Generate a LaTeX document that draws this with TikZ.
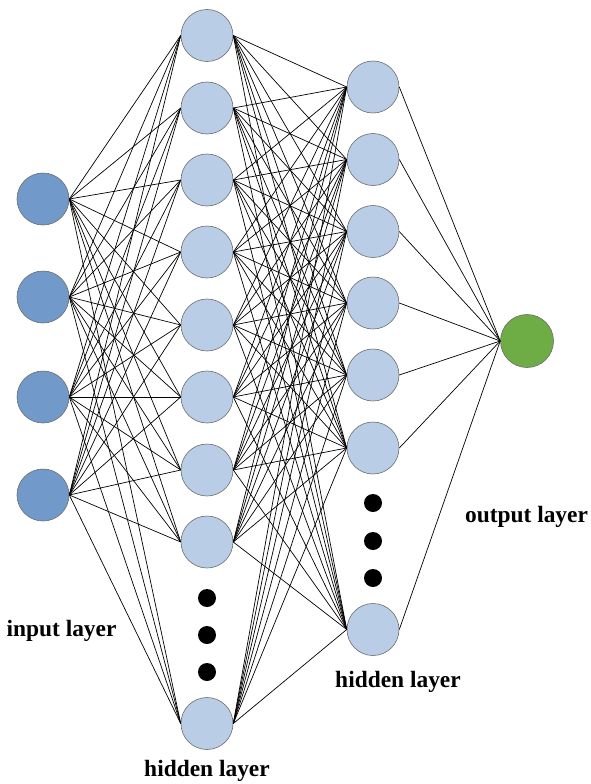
\documentclass[tikz,border=0pt]{standalone}
\usepackage{fontspec}
\setmainfont{Liberation Serif}
\begin{document}
\begin{tikzpicture}[x=1bp,y=-1bp,
  neuron/.style={circle,draw=gray!85!black,line width=0.6bp,minimum size=52bp,inner sep=0pt},
  inneuron/.style={neuron,fill=inblue},
  hidneuron/.style={neuron,fill=hidblue},
  outneuron/.style={neuron,fill=outgreen,minimum size=53bp},
  dotmark/.style={circle,fill=black,minimum size=18bp,inner sep=0pt},
  link/.style={black,line width=0.7bp},
  caption/.style={font=\fontsize{23.5}{26}\selectfont\bfseries,inner sep=0pt}]
\definecolor{inblue}{HTML}{7199C9}
\definecolor{hidblue}{HTML}{B9CDE6}
\definecolor{outgreen}{HTML}{6EAC45}
\useasboundingbox (0,0) rectangle (591,784);

% input layer
\foreach \i/\y in {1/199,2/297,3/397,4/495}
  \node[inneuron] (a\i) at (43,\y) {};

% first hidden layer
\foreach \i/\y in {1/35.5,2/108,3/180,4/252,5/325,6/397,7/470,8/542,9/723.5}
  \node[hidneuron] (b\i) at (207,\y) {};
\foreach \i/\y in {1/598,2/635,3/672}
  \node[dotmark] (bd\i) at (207,\y) {};

% second hidden layer
\foreach \i/\y in {1/87,2/159.5,3/231.5,4/303,5/375,6/448,7/629.5}
  \node[hidneuron] (c\i) at (373,\y) {};
\foreach \i/\y in {1/503,2/541,3/578}
  \node[dotmark] (cd\i) at (373,\y) {};

% output layer
\node[outneuron] (o) at (527,341) {};

% connections, east side of each neuron to west side of the next layer
\foreach \i in {1,...,4}
  \foreach \j in {1,...,9}
    \draw[link] (a\i.east) -- (b\j.west);
\foreach \i in {1,...,9}
  \foreach \j in {1,...,7}
    \draw[link] (b\i.east) -- (c\j.west);
\foreach \j in {1,...,7}
  \draw[link] (c\j.east) -- (o.west);

% captions
\node[caption] (la) at (61.5,631) {input layer};
\node[caption] (lb) at (207,771) {hidden layer};
\node[caption] (lc) at (398,682) {hidden layer};
\node[caption] (lo) at (526.5,517) {output layer};
\end{tikzpicture}
\end{document}
